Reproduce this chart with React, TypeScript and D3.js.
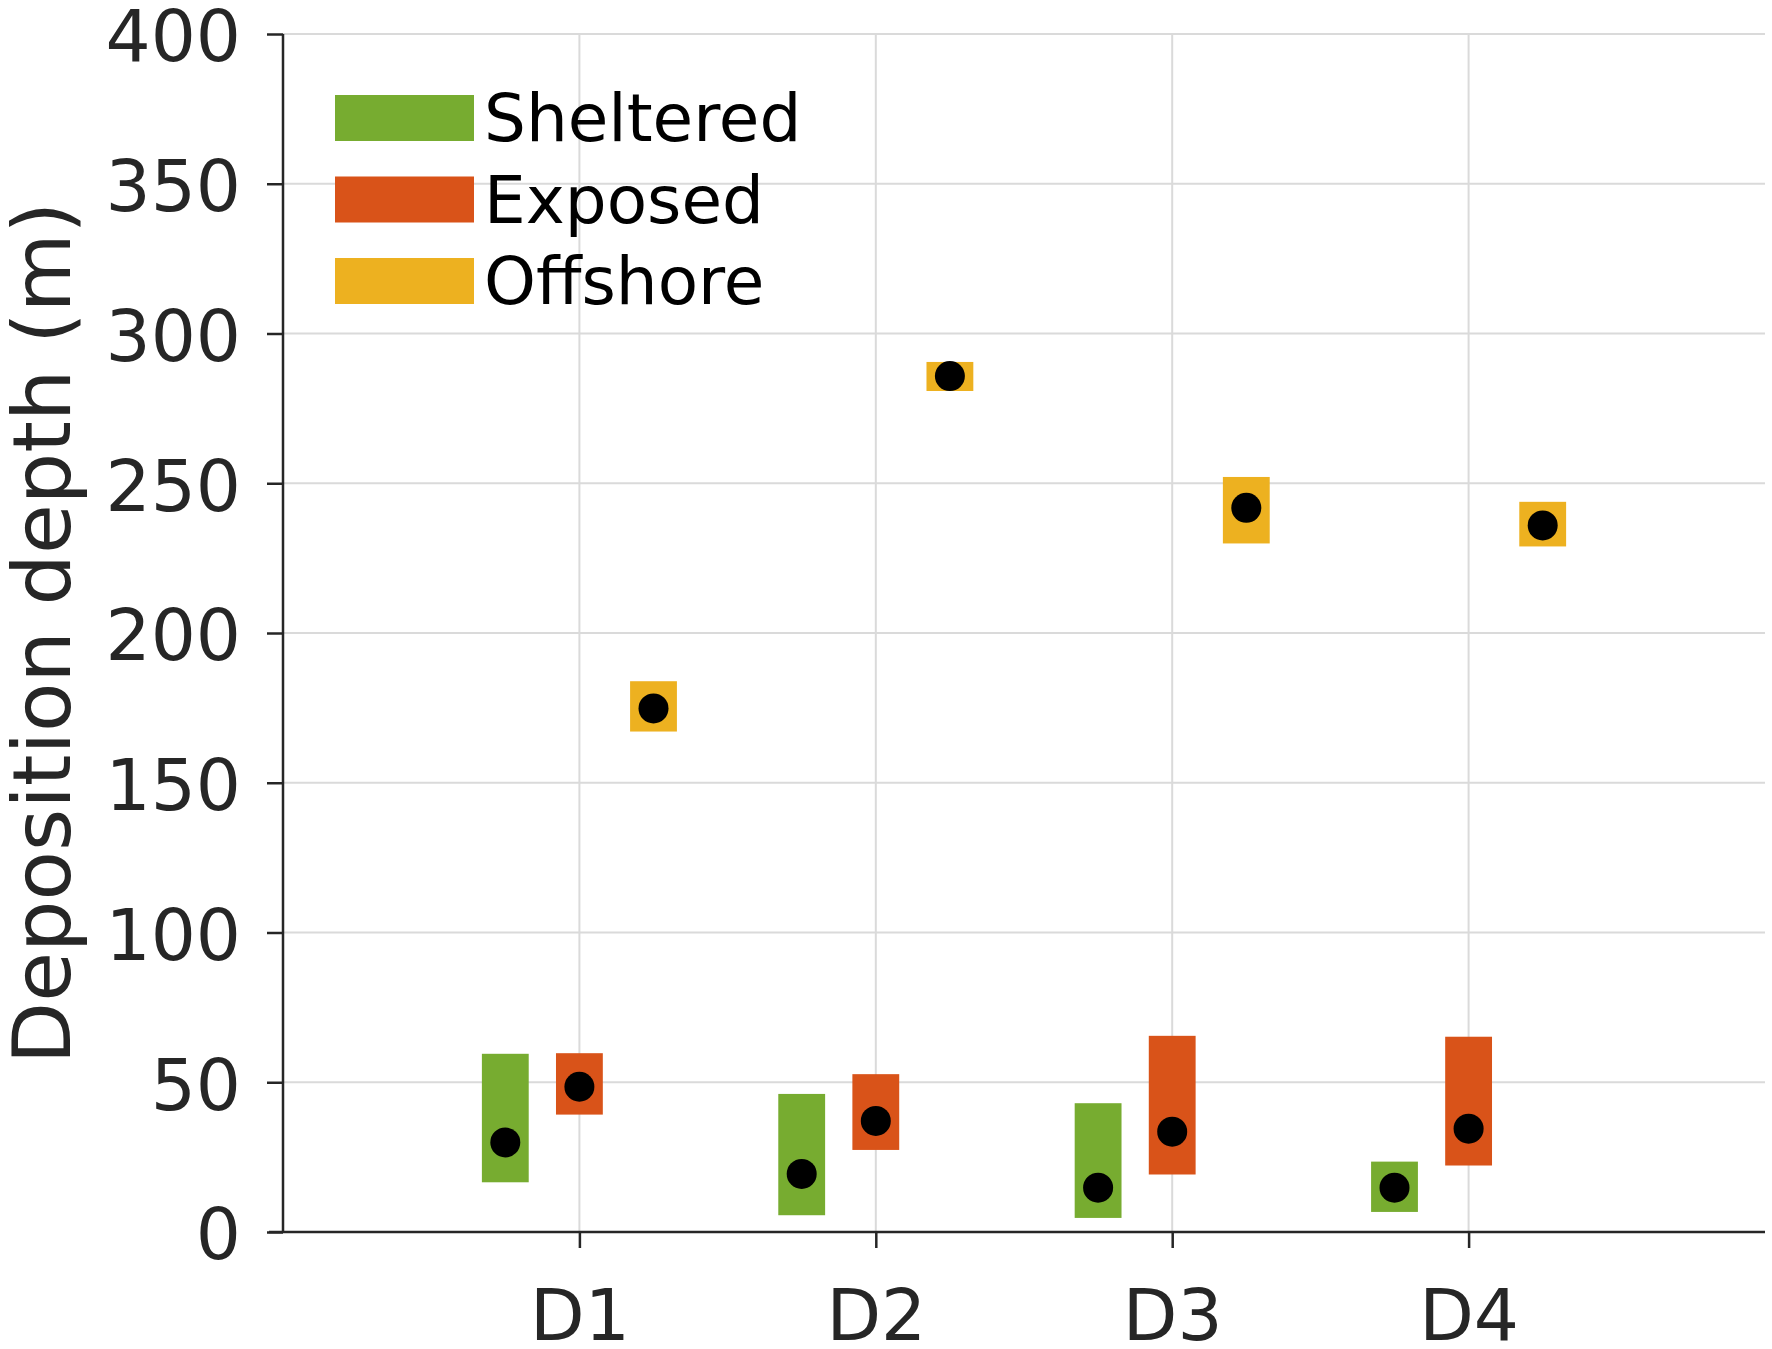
import React, { useEffect, useRef } from 'react';
import * as d3 from 'd3';

// Sites along the x axis
const sites = ['D1', 'D2', 'D3', 'D4'];

// Group names, in plotting order (left to right within a site)
const groups = ['Sheltered', 'Exposed', 'Offshore'];
const groupColors = ['#77AC30', '#D95319', '#EDB120'];

// Deposition depth ranges (m): lower / upper bound and median dot, per site
const shelteredLow = [16.6, 5.6, 4.7, 6.7];
const shelteredHigh = [59.5, 46.1, 43.0, 23.5];
const shelteredMid = [29.9, 19.4, 14.8, 14.8];

const exposedLow = [39.2, 27.4, 19.2, 22.2];
const exposedHigh = [59.7, 52.7, 65.5, 65.2];
const exposedMid = [48.5, 37.1, 33.5, 34.5];

const offshoreLow = [167.1, 280.8, 229.9, 228.9];
const offshoreHigh = [183.9, 290.5, 252.1, 243.8];
const offshoreMid = [174.8, 285.8, 241.8, 235.9];

const yTicks = [0, 50, 100, 150, 200, 250, 300, 350, 400];

const W = 1772;
const H = 1349;
const FONT = '"DejaVu Sans", sans-serif';
const AXIS = '#262626';
const GRID = '#dadada';

const App: React.FC = () => {
  const svgRef = useRef<SVGSVGElement>(null);

  useEffect(() => {
    if (!svgRef.current) return;
    const svg = d3.select(svgRef.current);
    svg.selectAll('*').remove();

    const left = 283;
    const right = 1765;
    const top = 34;
    const bottom = 1232;

    const x = d3.scaleLinear().domain([0, 5]).range([left, right]);
    const y = d3.scaleLinear().domain([0, 400]).range([bottom, top]);

    const series = [
      { low: shelteredLow, high: shelteredHigh, mid: shelteredMid, offset: -0.25 },
      { low: exposedLow, high: exposedHigh, mid: exposedMid, offset: 0 },
      { low: offshoreLow, high: offshoreHigh, mid: offshoreMid, offset: 0.25 },
    ];
    const halfW = 0.079;

    // Grid
    const grid = svg.append('g');
    grid
      .selectAll('line.h')
      .data(yTicks.filter(t => t > 0))
      .join('line')
      .attr('x1', left)
      .attr('x2', right)
      .attr('y1', d => y(d))
      .attr('y2', d => y(d))
      .attr('stroke', GRID)
      .attr('stroke-width', 2);
    grid
      .selectAll('line.v')
      .data(sites)
      .join('line')
      .attr('x1', (_, i) => x(i + 1))
      .attr('x2', (_, i) => x(i + 1))
      .attr('y1', top)
      .attr('y2', bottom)
      .attr('stroke', GRID)
      .attr('stroke-width', 2);

    // Range boxes and median dots
    series.forEach((s, gi) => {
      const g = svg.append('g');
      g.selectAll('rect')
        .data(sites)
        .join('rect')
        .attr('x', (_, i) => x(i + 1 + s.offset - halfW))
        .attr('width', (_, i) => x(i + 1 + s.offset + halfW) - x(i + 1 + s.offset - halfW))
        .attr('y', (_, i) => y(s.high[i]))
        .attr('height', (_, i) => y(s.low[i]) - y(s.high[i]))
        .attr('fill', groupColors[gi]);
      g.selectAll('circle')
        .data(sites)
        .join('circle')
        .attr('cx', (_, i) => x(i + 1 + s.offset))
        .attr('cy', (_, i) => y(s.mid[i]))
        .attr('r', 15)
        .attr('fill', '#000');
    });

    // Axes
    const yAxis = svg
      .append('g')
      .attr('transform', `translate(${left},0)`)
      .call(d3.axisLeft(y).tickValues(yTicks).tickSize(16).tickPadding(26));
    yAxis.select('.domain').attr('stroke', AXIS).attr('stroke-width', 2.5).attr('d', `M0,${top}V${bottom}`);
    yAxis.selectAll('.tick line').attr('stroke', AXIS).attr('stroke-width', 2.5);
    yAxis
      .selectAll('.tick text')
      .attr('fill', AXIS)
      .attr('font-family', FONT)
      .attr('font-size', 71)
      .attr('dy', '0.38em');

    const xAxis = svg
      .append('g')
      .attr('transform', `translate(0,${bottom})`)
      .call(
        d3
          .axisBottom(x)
          .tickValues([1, 2, 3, 4])
          .tickFormat((d, i) => sites[i])
          .tickSize(16)
          .tickPadding(42)
      );
    xAxis.select('.domain').attr('stroke', AXIS).attr('stroke-width', 2.5).attr('d', `M${left - 14},0H${right}`);
    xAxis.selectAll('.tick line').attr('stroke', AXIS).attr('stroke-width', 2.5);
    xAxis
      .selectAll('.tick text')
      .attr('fill', AXIS)
      .attr('font-family', FONT)
      .attr('font-size', 71)
      .attr('dy', '0.71em');

    // Y axis title
    svg
      .append('text')
      .attr('transform', 'rotate(-90)')
      .attr('x', -(top + bottom) / 2)
      .attr('y', 70)
      .attr('text-anchor', 'middle')
      .attr('fill', AXIS)
      .attr('font-family', FONT)
      .attr('font-size', 81)
      .text('Deposition depth (m)');

    // Legend
    const legend = svg.append('g').attr('transform', 'translate(335,95)');
    groups.forEach((name, i) => {
      const row = legend.append('g').attr('transform', `translate(0,${i * 81.5})`);
      row.append('rect').attr('width', 139).attr('height', 46).attr('fill', groupColors[i]);
      row
        .append('text')
        .attr('x', 149)
        .attr('y', 46)
        .attr('fill', '#000')
        .attr('font-family', FONT)
        .attr('font-size', 66)
        .text(name);
    });
  }, []);

  return (
    <svg
      ref={svgRef}
      width={W}
      height={H}
      style={{ position: 'absolute', left: 0, top: 0, background: '#fff' }}
    />
  );
};

export default App;
